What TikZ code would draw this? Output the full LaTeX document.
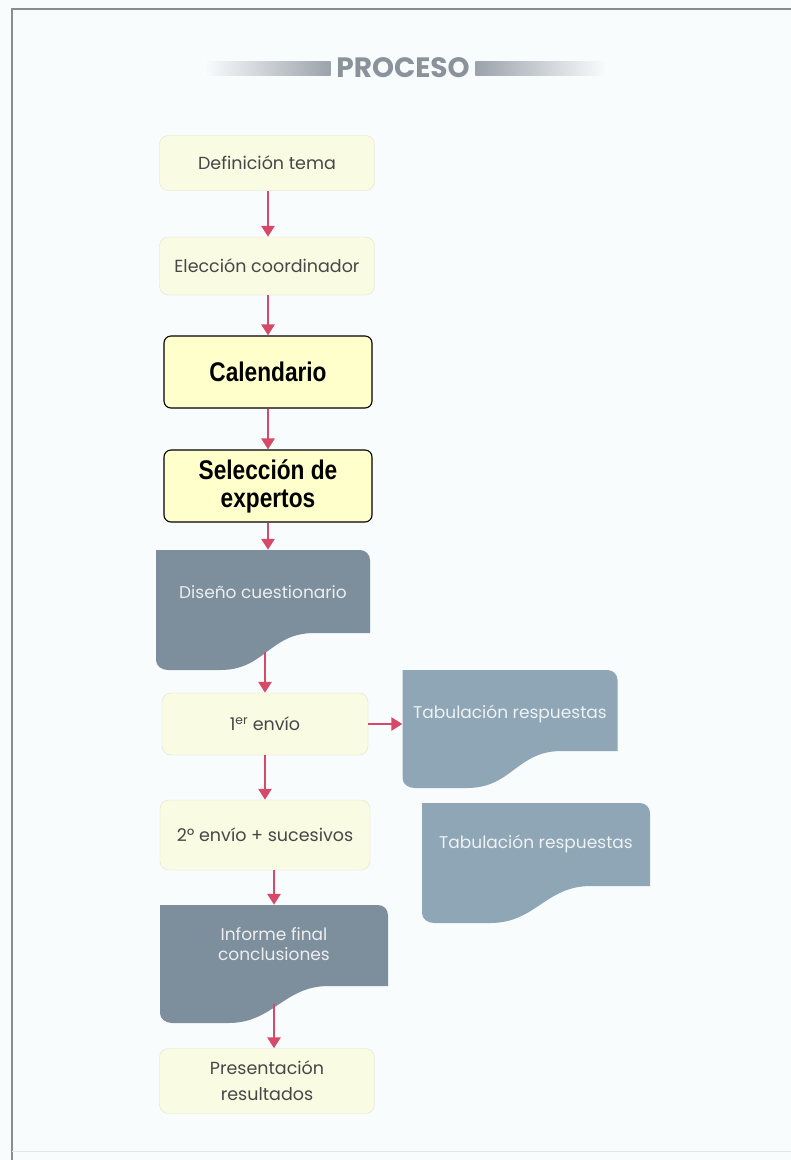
\documentclass[tikz,border=0pt]{standalone}
\usepackage{fontspec}
\setmainfont{Poppins}
\newfontfamily\arialfont[FakeStretch=0.84]{Liberation Sans}
\usetikzlibrary{arrows.meta,calc}

\definecolor{cream}{HTML}{FAFBE3}
\definecolor{hilite}{HTML}{FFFFCC}
\definecolor{slate}{HTML}{7D8E9C}
\definecolor{steel}{HTML}{8FA6B6}
\definecolor{arrowred}{HTML}{D64A68}
\definecolor{titlegray}{HTML}{8A929B}
\definecolor{paper}{HTML}{F9FCFD}

% raise a label inside the wavy boxes
\newcommand{\lift}[2]{\raisebox{#1}[0pt][0pt]{#2}}

\tikzset{
  plainbox/.style={rounded corners=9pt, fill=cream, draw=cream!90!black,
    text=black!72, font=\fontsize{17.5}{26}\selectfont, align=center},
  keybox/.style={rounded corners=7pt, fill=hilite, draw=black, line width=1.1pt,
    minimum width=208pt, minimum height=72pt,
    font=\arialfont\bfseries\fontsize{27}{28}\selectfont, align=center},
  docshape/.style={inner sep=0pt, align=center, text=white!85!#1,
    font=\fontsize{17}{24}\selectfont,
    path picture={
      \fill[#1] ([yshift=37pt]path picture bounding box.south east)
        -- ([yshift=-10pt]path picture bounding box.north east)
        to[out=90,in=0] ([xshift=-10pt]path picture bounding box.north east)
        -- (path picture bounding box.north west)
        -- ([yshift=10pt]path picture bounding box.south west)
        to[out=-90,in=180] ([xshift=12pt]path picture bounding box.south west)
        -- ($(path picture bounding box.south west)!0.30!(path picture bounding box.south east)$)
        .. controls +(45pt,0) and +(-45pt,0) ..
           ($(path picture bounding box.south west)!0.74!(path picture bounding box.south east)+(0,37pt)$)
        -- cycle;
    }}
}

\begin{document}
\begin{tikzpicture}[x=1pt,y=-1pt]

        \useasboundingbox (0,0) rectangle (791,1160);
        \fill[paper] (0,0) rectangle (791,1160);
        \draw[black!45, line width=2pt] (12,1160) -- (12,9) -- (791,9);
        \draw[black!10, line width=1pt] (12,1151) -- (791,1151);

        % title
        \node[font=\bfseries\fontsize{28}{30}\selectfont, text=titlegray] (title) at (403,68) {PROCESO};
        \shade[left color=paper, right color=titlegray!85]
          ([xshift=-128pt,yshift=-7pt]title.west) rectangle ([xshift=-2pt,yshift=7pt]title.west);
        \shade[left color=titlegray!85, right color=paper]
          ([xshift=2pt,yshift=-7pt]title.east) rectangle ([xshift=132pt,yshift=7pt]title.east);

        \begin{scope}[every node/.style={plainbox}]
          \node[minimum width=215pt, minimum height=55pt] (def)  at (267,163)  {Definición tema};
          \node[minimum width=215pt, minimum height=58pt] (elec) at (267,266)  {Elección coordinador};
          \node[minimum width=206pt, minimum height=62pt] (env1) at (265,724)  {1\textsuperscript{er} envío};
          \node[minimum width=210pt, minimum height=70pt] (env2) at (265,835)  {2º envío + sucesivos};
          \node[minimum width=215pt, minimum height=65pt] (pres) at (267,1081) {Presentación\\resultados};
        \end{scope}

        \begin{scope}[every node/.style={keybox}]
          \node (cal) at (268,372) {Calendario};
          \node (sel) at (268,486) {Selección de\\expertos};
        \end{scope}

        \node[docshape=slate, minimum width=214pt, minimum height=120pt] (dis) at (263,610)
          {\lift{12pt}{Diseño cuestionario}};
        \node[docshape=steel, minimum width=215pt, minimum height=118pt] (tab1) at (510,729)
          {\lift{11pt}{Tabulación respuestas}};
        \node[docshape=steel, minimum width=228pt, minimum height=120pt] (tab2) at (536,863)
          {\lift{15pt}{Tabulación respuestas}};
        \node[docshape=slate, minimum width=228pt, minimum height=118pt] (inf) at (274,964)
          {\lift{14pt}{\begin{tabular}{@{}c@{}}Informe final\\[-4pt]conclusiones\end{tabular}}};

        \begin{scope}[every edge/.style={draw=arrowred, line width=2.8pt,
            -{Triangle[length=11pt,width=13pt]}}]
          \path (def.south -| cal) edge (cal |- elec.north);
          \path (elec.south -| cal) edge (cal.north);
          \path (cal)  edge (sel);
          \path (sel.south) edge (sel.south |- dis.north);
          \path (dis.south -| env1) edge[shorten <=-18pt] (env1.north);
          \path (env1.east) edge (env1.east -| tab1.west);
          \path (env1) edge (env2);
          \path (env2.south -| inf.south) edge (inf.north);
          \path (inf.south) edge[shorten <=-19pt] (inf.south |- pres.north);
        \end{scope}

      \end{tikzpicture}
\end{document}
